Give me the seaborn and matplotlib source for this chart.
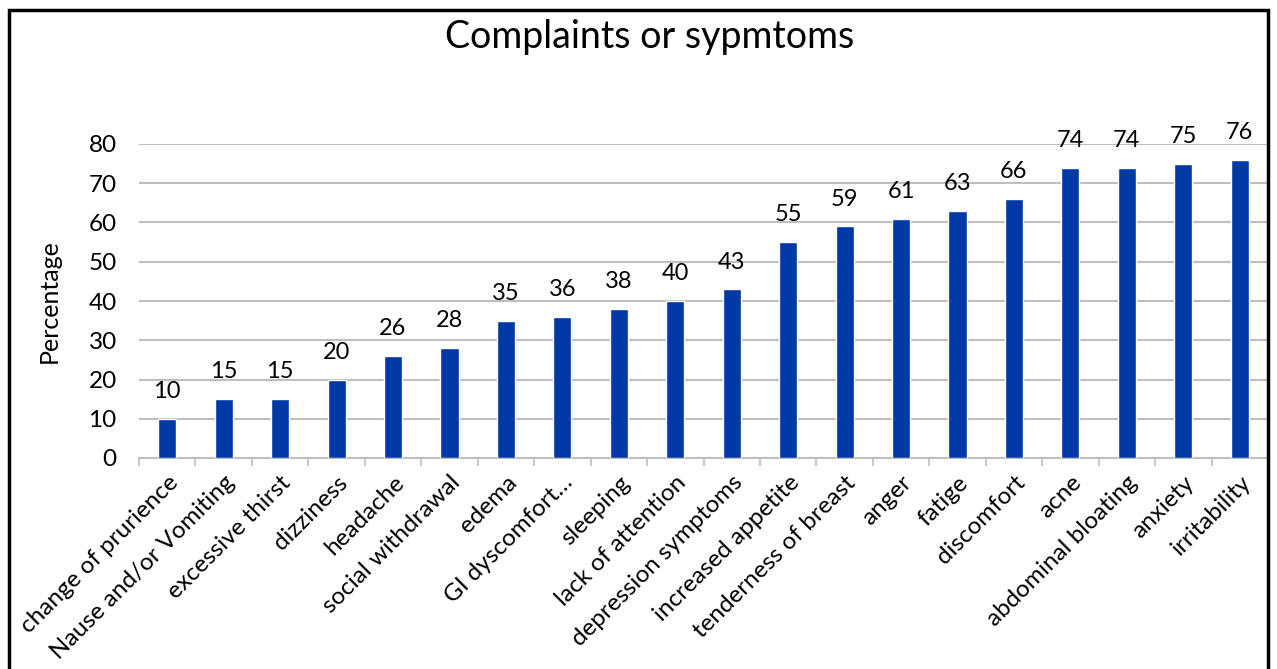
import matplotlib
matplotlib.use("Agg")
import matplotlib.pyplot as plt
import seaborn as sns
import pandas as pd
from matplotlib.patches import Rectangle

symptoms = [
    "change of prurience", "Nause and/or Vomiting", "excessive thirst", "dizziness",
    "headache", "social withdrawal", "edema", "GI dyscomfort…", "sleeping",
    "lack of attention", "depression symptoms", "increased appetite",
    "tenderness of breast", "anger", "fatige", "discomfort", "acne",
    "abdominal bloating", "anxiety", "irritability",
]
percentages = [10, 15, 15, 20, 26, 28, 35, 36, 38, 40, 43, 55, 59, 61, 63, 66, 74, 74, 75, 76]
y_ticks = [0, 10, 20, 30, 40, 50, 60, 70, 80]

df = pd.DataFrame({"symptom": symptoms, "pct": percentages})

sns.set_theme(style="white")
plt.rcParams["font.family"] = ["Lato", "DejaVu Sans"]

W, H = 1277, 669
fig = plt.figure(figsize=(W / 100, H / 100), dpi=100)
left, right, bottom, top = 139, 1268, 458, 144
ax = fig.add_axes([left / W, 1 - bottom / H, (right - left) / W, (bottom - top) / H])

bar_color = "#0039A6"
sns.barplot(data=df, x="symptom", y="pct", color=bar_color, width=0.32,
            saturation=1, ax=ax, zorder=3)

ax.set_ylim(0, 80)
ax.set_xlim(-0.5, 19.34)
ax.set_yticks(y_ticks)
ax.yaxis.grid(True, color="#BFBFBF", linewidth=1.5, zorder=0)
ax.set_axisbelow(True)

for side in ["top", "right", "left"]:
    ax.spines[side].set_visible(False)
ax.spines["bottom"].set_color("#BFBFBF")
ax.spines["bottom"].set_linewidth(1.5)

# category boundary ticks
ax.set_xticks([i - 0.5 for i in range(len(symptoms) + 1)], minor=True)
ax.tick_params(axis="x", which="minor", length=6, width=1.2, color="#BFBFBF", bottom=True)
ax.tick_params(axis="x", which="major", length=0, pad=10)
ax.tick_params(axis="y", length=0, pad=16, labelsize=17.5, labelcolor="black")

ax.set_xticks(range(len(symptoms)))
ax.set_xticklabels(symptoms, rotation=45, ha="right", rotation_mode="anchor",
                   fontsize=17.5, color="black")
ax.set_xlabel("")
ax.set_ylabel("Percentage", fontsize=18, color="black", labelpad=20)

for i, v in enumerate(percentages):
    ax.annotate(f"{v}", (i, v), xytext=(0, 12), textcoords="offset points",
                ha="center", va="bottom", fontsize=17, color="black")

fig.text(650 / W, 1 - 37 / H, "Complaints or sypmtoms", ha="center", va="center",
         fontsize=27, color="black")

# outer frame around the chart
fig.patches.append(Rectangle((9 / W, -0.05), (1268 - 9) / W, 1.05 - 10 / H,
                             transform=fig.transFigure, fill=False,
                             edgecolor="black", linewidth=2.5, zorder=10))

fig.savefig("out.png", dpi=100, facecolor="white")
